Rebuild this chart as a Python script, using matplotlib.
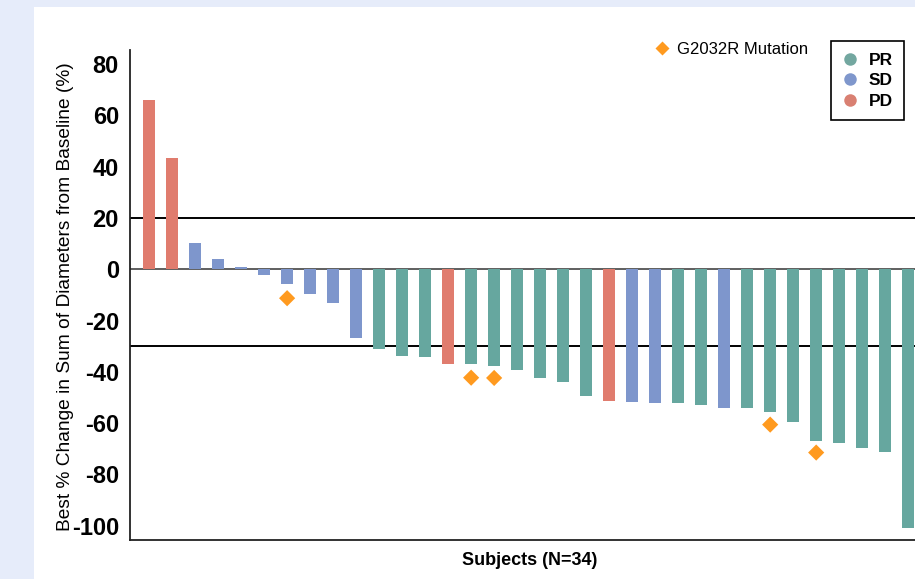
import matplotlib
matplotlib.use("Agg")
import matplotlib.pyplot as plt
from matplotlib.lines import Line2D
from matplotlib.patches import Rectangle
import numpy as np

plt.rcParams['font.family'] = ['Liberation Sans', 'DejaVu Sans']
plt.rcParams['axes.unicode_minus'] = False

# best % change per subject, sorted (waterfall)
change = [66.0, 43.4, 10.3, 4.0, 0.9, -2.2, -5.9, -9.6, -13.0, -26.9,
          -31.1, -33.9, -34.3, -36.8, -36.8, -37.6, -39.2, -42.3, -43.8, -49.3,
          -51.2, -51.9, -52.0, -52.3, -52.9, -54.0, -54.0, -55.5, -59.4, -66.8,
          -67.9, -69.6, -71.1, -100.8]
response = ['PD', 'PD', 'SD', 'SD', 'SD', 'SD', 'SD', 'SD', 'SD', 'SD',
            'PR', 'PR', 'PR', 'PD', 'PR', 'PR', 'PR', 'PR', 'PR', 'PR',
            'PD', 'SD', 'SD', 'PR', 'PR', 'SD', 'PR', 'PR', 'PR', 'PR',
            'PR', 'PR', 'PR', 'PR']
# subjects with G2032R mutation and the marker value
mut_idx = [6, 14, 15, 27, 29]
mut_val = [-11.3, -42.3, -42.4, -60.6, -71.5]

colors = {'PR': '#66a79f', 'SD': '#7e96cc', 'PD': '#e07c6e'}
leg_colors = {'PR': '#73a7a0', 'SD': '#7f97cc', 'PD': '#d98072'}

fig = plt.figure(figsize=(9.15, 5.79), dpi=100)
fig.patch.set_facecolor('#e6ecfa')
fig.patches.append(Rectangle((34 / 915, 0), 1, 1 - 7 / 579, transform=fig.transFigure,
                             facecolor='white', edgecolor='none', zorder=-10))

ax = fig.add_axes([130 / 915, 1 - 540 / 579, 792 / 915, 490 / 579])
ax.patch.set_alpha(0)

x = np.arange(len(change))
ax.bar(x, change, width=0.52, color=[colors[r] for r in response], zorder=2)
ax.scatter(mut_idx, mut_val, marker='D', s=68, color='#ff9a1f', edgecolor='none', zorder=3)

ax.axhline(20, color='black', lw=1.4, zorder=1)
ax.axhline(-30, color='black', lw=1.4, zorder=1)
ax.axhline(0, color='#444444', lw=1.2, zorder=1)

ax.set_xlim(-0.83, 33.6)
ax.set_ylim(-105.6, 85.5)
ax.set_yticks(np.arange(-100, 81, 20))
ax.set_xticks([])
ax.tick_params(axis='y', length=0, pad=8, labelsize=17)
for t in ax.get_yticklabels():
    t.set_fontweight('bold')

for s in ['top', 'right']:
    ax.spines[s].set_visible(False)
ax.spines['left'].set_color('#222222')
ax.spines['bottom'].set_color('#222222')
ax.spines['left'].set_linewidth(1.3)
ax.spines['bottom'].set_linewidth(1.3)

ax.set_ylabel('Best % Change in Sum of Diameters from Baseline (%)', fontsize=13.8)
ax.yaxis.set_label_coords((74 - 130) / 792, 0.496)
ax.set_xlabel('Subjects (N=34)', fontsize=13, fontweight='bold')
ax.xaxis.set_label_coords((530 - 130) / 792, -0.024)

handles = [Line2D([], [], marker='o', linestyle='none', markersize=9,
                  markerfacecolor=leg_colors[k], markeredgecolor='none', label=k)
           for k in ['PR', 'SD', 'PD']]
leg = fig.legend(handles=handles, loc='upper left', bbox_to_anchor=(831 / 915, 1 - 41 / 579),
                 frameon=True, fancybox=False, edgecolor='black', framealpha=1,
                 prop={'weight': 'bold', 'size': 12.5}, handletextpad=0.6,
                 labelspacing=0.32, borderpad=0.66, handlelength=0.9, borderaxespad=0)
leg.get_frame().set_linewidth(1.2)

mut_h = [Line2D([], [], marker='D', linestyle='none', markersize=7,
                markerfacecolor='#ff9a1f', markeredgecolor='none', label='G2032R Mutation')]
fig.legend(handles=mut_h, loc='center left', bbox_to_anchor=(655 / 915, 1 - 49 / 579),
           frameon=False, prop={'size': 12}, handletextpad=0.5, handlelength=0.8,
           borderpad=0, borderaxespad=0)

fig.savefig('out.png', dpi=100, facecolor=fig.get_facecolor())
